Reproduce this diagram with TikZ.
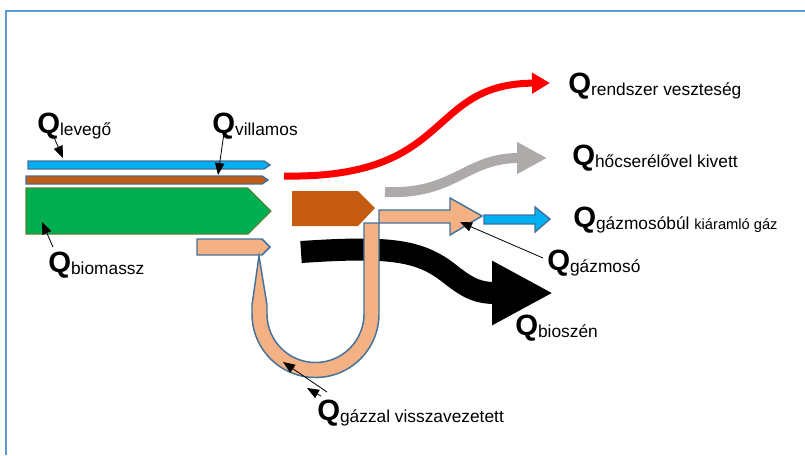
\documentclass[tikz,border=0pt]{standalone}
\usepackage{fontspec}
\setmainfont{Liberation Sans}
\usetikzlibrary{arrows.meta}

\definecolor{frameblue}{HTML}{5B9BD5}
\definecolor{edgeblue}{HTML}{41719C}
\definecolor{airblue}{HTML}{00B0F0}
\definecolor{elbrown}{HTML}{C55A11}
\definecolor{biogreen}{HTML}{00B050}
\definecolor{biogreenedge}{HTML}{548235}
\definecolor{gassalmon}{HTML}{F4B183}
\definecolor{heatgray}{HTML}{AEAAAA}

\newcommand{\qlab}[1]{{\fontsize{22pt}{22pt}\selectfont\bfseries Q}\raisebox{-1.5pt}{\fontsize{13pt}{13pt}\selectfont #1}}

\tikzset{
  pipe/.style={draw=edgeblue, line width=1.1pt, line join=miter},
  pointer/.style={-{Triangle[length=9pt,width=7pt]}, line width=0.6pt},
  qlabel/.style={anchor=base west, inner sep=0pt},
}

\begin{document}
\begin{tikzpicture}[x=0.75pt,y=-0.75pt]
			%%%%% START %%%%%
			\useasboundingbox (0,0) rectangle (805,455);
			\draw[line width=1.5pt, color=frameblue] (805,11) -- (6,11) -- (6,455);
			
			% inflows
			\draw[pipe, fill=airblue] (28,161) -- (264,161) -- (270,165) -- (264,169) -- (28,169) -- cycle;
			\draw[pipe, fill=elbrown] (26,176) -- (262,176) -- (268,180) -- (262,184) -- (26,184) -- cycle;
			\draw[line width=0.8pt, draw=biogreenedge, fill=biogreen] (26,188) -- (248,188) -- (271,211) -- (248,234) -- (26,234) -- cycle;
			\draw[pipe, fill=gassalmon] (197,239) -- (262,239) -- (270,247) -- (262,255) -- (197,255) -- cycle;
			
			% reactor block
			\fill[elbrown] (292,191) -- (358,191) -- (375,208) -- (358,226) -- (292,226) -- cycle;
			
			% outflows
			\draw[line width=5.25pt, color=red, -{Triangle[length=13.5pt,width=15pt]}]
			  (284,176) .. controls (455,179) and (425,84) .. (550,83);
			\draw[line width=7.5pt, color=heatgray, -{Triangle[length=22.5pt,width=22.5pt]}]
			  (385,192) .. controls (455,195) and (465,158) .. (547,158);
			\draw[line width=16.5pt, color=black, -{Triangle[length=45.75pt,width=45pt]}]
			  (301,252) .. controls (390,246) and (420,250) .. (450,274) .. controls (470,290) and (480,293) .. (553,293);
			\draw[pipe, fill=airblue] (484,215) -- (535,215) -- (535,207) -- (550,219) -- (535,232) -- (535,224) -- (484,224) -- cycle;
			
			% gas loop
			\draw[pipe, fill=gassalmon] (379,223) -- (379,314) arc[start angle=0, end angle=180, radius=63.5]
			  -- (252,305) -- (259,256) -- (267,305) -- (267,314) arc[start angle=180, end angle=0, radius=48.5]
			  -- (364,223) -- cycle;
			\draw[pipe, fill=gassalmon] (379,210) -- (450,210) -- (450,198) -- (482,216) -- (450,235) -- (450,223) -- (379,223) -- cycle;
			
			% labels
			\node[qlabel] (qlev) at (37,133) {\qlab{levegő}};
			\node[qlabel] (qvill) at (212,133) {\qlab{villamos}};
			\node[qlabel] (qbio) at (48,272) {\qlab{biomassz}};
			\node[qlabel] (qrend) at (568,93) {\qlab{rendszer veszteség}};
			\node[qlabel] (qhocs) at (572,165) {\qlab{hőcserélővel kivett}};
			\node[qlabel] (qgazki) at (573,227) {\qlab{gázmosóbúl {\fontsize{11pt}{11pt}\selectfont kiáramló gáz}}};
			\node[qlabel] (qgazm) at (547,270) {\qlab{gázmosó}};
			\node[qlabel] (qbiosz) at (515,335) {\qlab{bioszén}};
			\node[qlabel] (qvissza) at (317,420) {\qlab{gázzal visszavezetett}};
			
			\coordinate (levbar) at (63,158);
			\coordinate (villbar) at (218,175);
			\coordinate (biobar) at (42,222);
			\coordinate (mosohead) at (460,222);
			\coordinate (loopbottom) at (283,362);
			\coordinate (qvisszatop) at (307,388);
			
			\draw[pointer] ([shift={(16,2)}]qlev.base west) -- (levbar);
			\draw[pointer] ([shift={(12,0)}]qvill.base west) -- (villbar);
			\draw[pointer] ([shift={(5,-25)}]qbio.base west) -- (biobar);
			\draw[pointer] ([shift={(-4,-12)}]qgazm.base west) -- (mosohead);
			\draw[pointer] ([shift={(10,-28)}]qvissza.base west) -- (loopbottom);
			\draw[pointer] ([shift={(4,-24)}]qvissza.base west) -- (qvisszatop);
			%%%%% END %%%%%
\end{tikzpicture}
\end{document}
